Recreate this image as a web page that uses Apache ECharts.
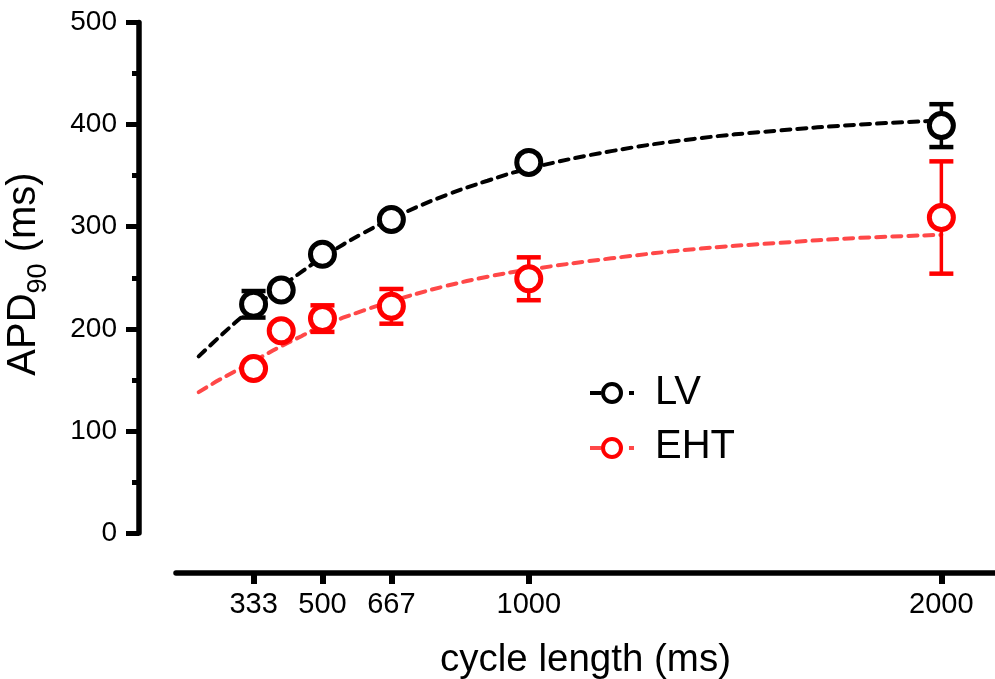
<!DOCTYPE html>
<html>
<head>
<meta charset="utf-8">
<script src="https://cdn.jsdelivr.net/npm/echarts@6/dist/echarts.min.js"></script>
<style>html,body{margin:0;padding:0;background:#fff;}#c{width:995px;height:679px;}</style>
</head>
<body>
<div id="c"></div>
<script>
// ---- data ----
const cycleLengths = [333, 400, 500, 667, 1000, 2000];
const lvMean = [224, 238, 273, 307, 363, 399];
const lvErr  = [13, 5, 5, 5, 6, 21];
const ehtMean = [161, 198, 210, 222, 249, 309];
const ehtErr  = [4, 5, 13, 17, 21, 55];
const fitX   = [200, 250, 300, 350, 400, 450, 500, 600, 700, 800, 900, 1000, 1200, 1400, 1600, 1800, 2000];
const lvFit  = [173, 192, 210, 226, 241, 256, 270, 294, 314, 331, 345, 357, 374, 386, 394, 400, 404];
const ehtFit = [138, 150, 161, 172, 183, 193, 203, 218, 231, 242, 251, 258, 269, 278, 284, 289, 292];
const xTicks = [333, 500, 667, 1000, 2000];
const xLabels = ['333', '500', '667', '1000', '2000'];
const seriesNames = ['LV', 'EHT'];

const FONT = "'Liberation Sans', Arial, sans-serif";
const BLACK = '#000000', RED = '#ff0000', RED_FIT = '#ff4848';

function pairs(xs, ys) { return xs.map((x, i) => [x, ys[i]]); }
function triples(xs, ys, es) { return xs.map((x, i) => [x, ys[i], es[i]]); }

function errRender(color) {
  return function (params, api) {
    const x = api.value(0), m = api.value(1), e = api.value(2);
    const top = api.coord([x, m + e]);
    const bot = api.coord([x, m - e]);
    const hw = 12;
    return {
      type: 'group',
      children: [
        { type: 'line', shape: { x1: top[0], y1: top[1], x2: bot[0], y2: bot[1] }, style: { stroke: color, lineWidth: 3.5 } },
        { type: 'line', shape: { x1: top[0] - hw, y1: top[1], x2: top[0] + hw, y2: top[1] }, style: { stroke: color, lineWidth: 4.5 } },
        { type: 'line', shape: { x1: bot[0] - hw, y1: bot[1], x2: bot[0] + hw, y2: bot[1] }, style: { stroke: color, lineWidth: 4.5 } }
      ]
    };
  };
}

const chart = echarts.init(document.getElementById('c'), null, { renderer: 'canvas' });

function legendItem(y, name, lineColor, color, textTop) {
  return [
    { type: 'line', shape: { x1: 590, y1: y, x2: 601, y2: y }, style: { stroke: lineColor, lineWidth: 4 } },
    { type: 'line', shape: { x1: 629, y1: y, x2: 634, y2: y }, style: { stroke: lineColor, lineWidth: 4 } },
    { type: 'circle', shape: { cx: 612, cy: y, r: 9 }, style: { fill: '#fff', stroke: color, lineWidth: 4 } },
    { type: 'text', x: 655, y: textTop, style: { text: name, font: '40px ' + FONT, fill: '#000', textAlign: 'left', textVerticalAlign: 'top' } }
  ];
}

const option = {
  animation: false,
  backgroundColor: '#fff',
  grid: { left: 176, right: 0, top: 22.5, bottom: 146, containLabel: false, outerBoundsMode: 'none' },
  xAxis: {
    type: 'value', min: 145, max: 2130, offset: 40,
    name: 'cycle length (ms)', nameLocation: 'middle', nameGap: 68,
    nameTextStyle: { fontSize: 38.5, fontFamily: FONT, color: '#000' },
    axisLine: { show: true, onZero: false, lineStyle: { color: '#000', width: 5.5 } },
    axisTick: { show: true, length: 11, lineStyle: { color: '#000', width: 6 }, customValues: xTicks },
    axisLabel: { show: true, customValues: xTicks, fontSize: 29, fontFamily: FONT, color: '#000', margin: 17,
      formatter: v => xLabels[xTicks.indexOf(v)] !== undefined ? xLabels[xTicks.indexOf(v)] : String(v) },
    splitLine: { show: false }
  },
  yAxis: {
    type: 'value', min: 0, max: 500, interval: 100, offset: 37,
    axisLine: { show: true, onZero: false, lineStyle: { color: '#000', width: 5.5 } },
    axisTick: { show: true, length: 13, lineStyle: { color: '#000', width: 5 } },
    minorTick: { show: true, splitNumber: 2, length: 7, lineStyle: { color: '#000', width: 5 } },
    axisLabel: { fontSize: 28, fontFamily: FONT, color: '#000', margin: 22 },
    splitLine: { show: false }
  },
  graphic: [
    {
      type: 'text', x: 28, y: 274, rotation: Math.PI / 2,
      style: {
        text: '{a|APD}{s|90}{a| (ms)}',
        textAlign: 'center', textVerticalAlign: 'middle',
        rich: {
          a: { fontSize: 40, fontFamily: FONT, fill: '#000', color: '#000', verticalAlign: 'bottom', padding: [0, 0, 9, 0] },
          s: { fontSize: 27, fontFamily: FONT, fill: '#000', color: '#000', verticalAlign: 'bottom' }
        }
      }
    },
    ...legendItem(393, seriesNames[0], BLACK, BLACK, 373),
    ...legendItem(448, seriesNames[1], RED_FIT, RED, 427)
  ],
  series: [
    { name: seriesNames[0] + ' fit', type: 'line', data: pairs(fitX, lvFit), smooth: 0.4, showSymbol: false, z: 1,
      lineStyle: { color: BLACK, width: 4, type: [9, 7], cap: 'round' } },
    { name: seriesNames[1] + ' fit', type: 'line', data: pairs(fitX, ehtFit), smooth: 0.4, showSymbol: false, z: 1,
      lineStyle: { color: RED_FIT, width: 4, type: [9, 7], cap: 'round' } },
    { name: seriesNames[0] + ' err', type: 'custom', renderItem: errRender(BLACK), data: triples(cycleLengths, lvMean, lvErr), z: 2 },
    { name: seriesNames[1] + ' err', type: 'custom', renderItem: errRender(RED), data: triples(cycleLengths, ehtMean, ehtErr), z: 2 },
    { name: seriesNames[0], type: 'scatter', data: pairs(cycleLengths, lvMean), symbol: 'circle', symbolSize: 24, z: 3,
      itemStyle: { color: '#fff', borderColor: BLACK, borderWidth: 5, opacity: 1 } },
    { name: seriesNames[1], type: 'scatter', data: pairs(cycleLengths, ehtMean), symbol: 'circle', symbolSize: 24, z: 3,
      itemStyle: { color: '#fff', borderColor: RED, borderWidth: 5, opacity: 1 } }
  ]
};
chart.setOption(option);
</script>
</body>
</html>
